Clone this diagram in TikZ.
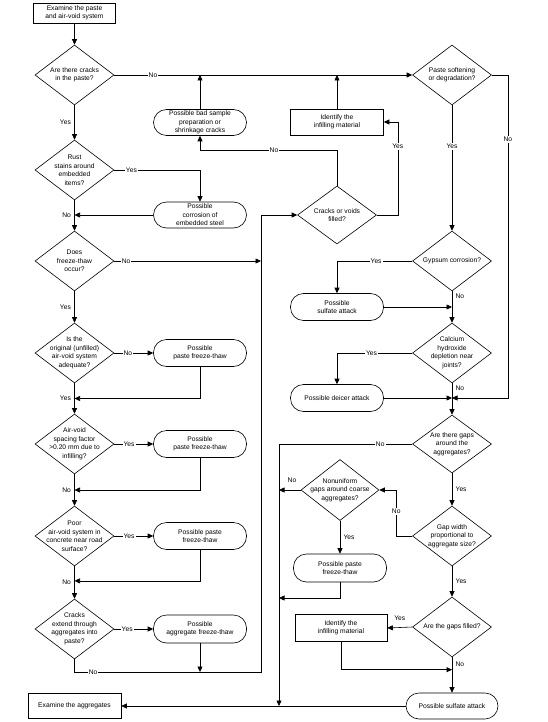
\documentclass[tikz,border=0pt]{standalone}
\usepackage{fontspec}
\setmainfont{Liberation Sans}
\usetikzlibrary{arrows.meta,calc,positioning,shapes.geometric}

\begin{document}
\begin{tikzpicture}[x=1pt,y=-1pt,line width=0.6pt,
  every node/.style={font=\fontsize{6.7}{8.5}\selectfont},
  box/.style={draw,rectangle,align=center,inner sep=1pt,minimum width=93pt,minimum height=26pt},
  poss/.style={box,rounded corners=13pt,minimum height=27pt},
  decision/.style={draw,diamond,inner sep=0pt,minimum width=79pt,minimum height=60pt},
  dtxt/.style={align=center,inner sep=0pt},
  lbl/.style={fill=white,inner sep=1pt},
  arr/.style={-{Triangle[length=5.5pt,width=5pt]}}]
\useasboundingbox (0,0) rectangle (548,722);
% left column: the paste
\node[box,minimum width=82pt,minimum height=20pt] (exPaste) at (74.5,13) {Examine the paste\\and air-void system};
\node[decision,label={[dtxt]center:{Are there cracks\\in the paste?}}] (qCracks) at (74.5,75) {};
\node[decision,label={[dtxt]center:{Rust\\stains around\\embedded\\items?}}] (qRust) at (74.5,170) {};
\node[decision,label={[dtxt]center:{Does\\freeze-thaw\\occur?}}] (qFreeze) at (74.5,261) {};
\node[decision,label={[dtxt]center:{Is the\\original (unfilled)\\air-void system\\adequate?}}] (qOrig) at (74.5,353) {};
\node[decision,label={[dtxt]center:{Air-void\\spacing factor\\>0.20 mm due to\\infilling?}}] (qSpacing) at (74.5,444) {};
\node[decision,label={[dtxt]center:{Poor\\air-void system in\\concrete near road\\surface?}}] (qPoor) at (74.5,536) {};
\node[decision,label={[dtxt]center:{Cracks\\extend through\\aggregates into\\paste?}}] (qExtend) at (74.5,629) {};
\node[box,minimum height=25pt] (exAgg) at (74.5,706) {Examine the aggregates};
% possible causes
\node[poss,minimum height=26pt] (bSample) at (200,122.5) {Possible bad sample\\preparation or\\shrinkage cracks};
\node[poss,minimum height=26pt] (bCorr) at (200,215) {Possible\\corrosion of\\embedded steel};
\node[poss] (bPftOrig) at (200,353) {Possible\\paste freeze-thaw};
\node[poss] (bPftSpacing) at (200,444) {Possible\\paste freeze-thaw};
\node[poss] (bPftPoor) at (200,536) {Possible paste\\freeze-thaw};
\node[poss,minimum height=28pt] (bAgg) at (200,629) {Possible\\aggregate freeze-thaw};
% middle
\node[box] (bId1) at (337,122) {Identify the\\infilling material};
\node[decision,minimum height=58pt,label={[dtxt]center:{Cracks or voids\\filled?}}] (qFilled) at (337,215) {};
\node[poss] (bSulf1) at (337,307) {Possible\\sulfate attack};
\node[poss] (bDeicer) at (337,398) {Possible deicer attack};
\node[decision,minimum width=78pt,minimum height=61pt,label={[dtxt]center:{Nonuniform\\gaps around coarse\\aggregates?}}] (qNonuni) at (340,490) {};
\node[poss,minimum height=28pt] (bPftNonuni) at (340,568) {Possible paste\\freeze-thaw};
\node[box,minimum width=92pt,minimum height=27pt] (bId2) at (341,628) {Identify the\\infilling material};
% right column
\node[decision,label={[dtxt]center:{Paste softening\\or degradation?}}] (qSoft) at (452,75) {};
\node[decision,label={[dtxt]center:{Gypsum corrosion?}}] (qGyp) at (452,261) {};
\node[decision,label={[dtxt]center:{Calcium\\hydroxide\\depletion near\\joints?}}] (qCalc) at (452,353) {};
\node[decision,minimum height=58pt,label={[dtxt]center:{Are there gaps\\around the\\aggregates?}}] (qGaps) at (452,444) {};
\node[decision,label={[dtxt]center:{Gap width\\proportional to\\aggregate size?}}] (qWidth) at (452,536) {};
\node[decision,label={[dtxt]center:{Are the gaps filled?}}] (qGapsFilled) at (452,627) {};
\node[poss,minimum width=92pt,minimum height=26pt] (bSulf2) at (452,706) {Possible sulfate attack};
% joints
\coordinate (jA) at (261,672);
\coordinate (jB) at (200,150);
\coordinate (jD) at (279,706);
\coordinate (jE) at (279,598);
% connectors, left
\draw[arr] (exPaste.south) -- (qCracks.north);
\draw[arr] (qCracks.east) -- node[lbl,pos=.13] (nCracks) {No} (qSoft.west);
\draw[arr] (qCracks.south) -- node[left] (yCracks) {Yes} (qRust.north);
\draw[arr] (qRust.east) -| node[lbl,pos=.1] (yRust) {Yes} (bCorr.north);
\draw[arr] (bCorr.west) -- (bCorr.west -| qRust.south);
\draw[arr] (qRust.south) -- node[left] (nRust) {No} (qFreeze.north);
\draw[arr] (qFreeze.east) -- node[lbl,pos=.08] (nFreeze) {No} (qFreeze.east -| jA);
\draw[arr] (qFreeze.south) -- node[left] (yFreeze) {Yes} (qOrig.north);
\draw[arr] (qOrig.east) -- node[lbl,pos=.35] (nOrig) {No} (bPftOrig.west);
\draw[arr] (bPftOrig.south) |- ($(qOrig.south)!.5!(qSpacing.north)$);
\draw[arr] (qOrig.south) -- node[left] (yOrig) {Yes} (qSpacing.north);
\draw[arr] (qSpacing.east) -- node[lbl,pos=.38] (ySpacing) {Yes} (bPftSpacing.west);
\draw[arr] (bPftSpacing.south) |- ($(qSpacing.south)!.5!(qPoor.north)$);
\draw[arr] (qSpacing.south) -- node[left] (nSpacing) {No} (qPoor.north);
\draw[arr] (qPoor.east) -- node[lbl,pos=.38] (yPoor) {Yes} (bPftPoor.west);
\draw[arr] (bPftPoor.south) |- ($(qPoor.south)!.45!(qExtend.north)$);
\draw[arr] (qPoor.south) -- node[left] (nPoor) {No} (qExtend.north);
\draw[arr] (qExtend.east) -- node[lbl,pos=.33] (yExtend) {Yes} (bAgg.west);
\draw[arr] (bAgg.south) -- (bAgg.south |- jA);
\draw[arr] (qExtend.south) |- node[lbl,pos=.55] (nExtend) {No} (jA) |- (qFilled.west);
% connectors, middle
\draw[arr] (bSample.north) -- (bSample.north |- qCracks.east);
\draw[arr] (qFilled.north) |- node[lbl,pos=.73] (nFilled) {No} (jB) -- (bSample.south);
\draw[arr] (qFilled.east) -- ++(21,0) |- node[lbl,pos=.37] (yFilled) {Yes} (bId1.east);
\draw[arr] (bId1.north) -- (bId1.north |- qSoft.west);
% connectors, right
\draw[arr] (qSoft.south) -- node[lbl,pos=.33] (ySoft) {Yes} (qGyp.north);
\draw[arr] (qSoft.east) -- ++(16,0) |- node[lbl,pos=.1] (nSoft) {No} (bDeicer.east -| qCalc.south);
\draw[arr] (qGyp.west) -| node[lbl,pos=.24] (yGyp) {Yes} (bSulf1.north);
\draw[arr] (bSulf1.east) -- (bSulf1.east -| qGyp.south);
\draw[arr] (qGyp.south) -- node[right,pos=.15] (nGyp) {No} (qCalc.north);
\draw[arr] (qCalc.west) -| node[lbl,pos=.27] (yCalc) {Yes} (bDeicer.north);
\draw[arr] (bDeicer.east) -- (bDeicer.east -| qCalc.south);
\draw[arr] (qCalc.south) -- node[right,pos=.15] (nCalc) {No} (qGaps.north);
\draw[arr] (qGaps.west) -| node[lbl,pos=.12] (nGaps) {No} (jD);
\draw[arr] (qGaps.south) -- node[right] (yGaps) {Yes} (qWidth.north);
\draw[arr] (qWidth.west) -- ++(-16,0) |- node[lbl,pos=.27] (nWidth) {No} (qNonuni.east);
\draw[arr] (qNonuni.west) -- node[above=4pt,pos=.4] (nNonuni) {No} (qNonuni.west -| jD);
\draw[arr] (qNonuni.south) -- node[right] (yNonuni) {Yes} (bPftNonuni.north);
\draw[arr] (bPftNonuni.south) |- (jE);
\draw[arr] (qWidth.south) -- node[right] (yWidth) {Yes} (qGapsFilled.north);
\draw[arr] (qGapsFilled.west) -- node[above=3pt] (yGapsFilled) {Yes} (bId2.east);
\draw[arr] (bId2.south) |- ($(qGapsFilled.south)!.35!(bSulf2.north)$);
\draw[arr] (qGapsFilled.south) -- node[right,pos=.2] (nGapsFilled) {No} (bSulf2.north);
\draw[arr] (bSulf2.west) -- (exAgg.east);
\end{tikzpicture}
\end{document}
